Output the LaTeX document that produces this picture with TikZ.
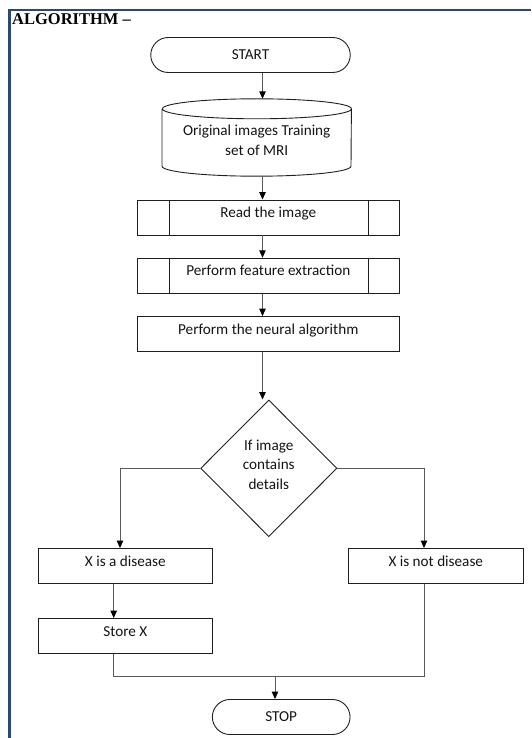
\documentclass[tikz,border=0pt]{standalone}
\usepackage{fontspec}
\setmainfont{Carlito}
\newfontfamily\titlefont{Liberation Serif}
\usetikzlibrary{shapes.geometric,arrows.meta,calc}
\definecolor{framecol}{RGB}{44,72,108}
\definecolor{txt}{RGB}{20,20,20}
\begin{document}
\begin{tikzpicture}[x=1pt,y=-1pt,
  every node/.style={font=\fontsize{15.2pt}{19.7pt}\selectfont, text=txt},
  boxline/.style={draw=black!88, line width=0.9pt},
  proc/.style={boxline, rectangle, minimum height=35pt, inner sep=0pt, text height=10.5pt, text depth=10.5pt},
  term/.style={boxline, rectangle, rounded corners=17.5pt, minimum height=35pt, inner sep=0pt, text height=10.5pt, text depth=1pt},
  conn/.style={draw=black!65, line width=1pt},
  arr/.style={conn, -{Triangle[length=7.5pt,width=6.5pt,color=black]}},
  framestyle/.style={draw=framecol, line width=2.4pt}
]
\useasboundingbox (0,0) rectangle (531,738);
\draw[framestyle] (9.5,738) -- (9.5,10) -- (531,10);

\node[anchor=base west, font=\titlefont\bfseries\fontsize{16.5pt}{18pt}\selectfont, text=black, inner sep=0pt] (title) at (12,25) {ALGORITHM –};

\node[term, minimum width=199.5pt] (start) at (250.5,55) {START};

\node[minimum width=189pt, minimum height=77pt, inner sep=0pt,
  label={[align=center, yshift=-2.5pt]center:{Original images Training\\set of MRI}}] (db) at (256.7,137.5) {};
\draw[boxline] ([yshift=-10pt]db.north west) -- ([yshift=10pt]db.south west)
  arc[start angle=180,end angle=360,x radius=94.5pt,y radius=10pt]
  -- ([yshift=-10pt]db.north east)
  arc[start angle=0,end angle=180,x radius=94.5pt,y radius=10pt]
  arc[start angle=180,end angle=360,x radius=94.5pt,y radius=10pt];

\node[proc, minimum width=261.3pt] (read) at (268.3,217.5) {Read the image};
\draw[boxline] ([xshift=32.3pt]read.north west) -- ([xshift=32.3pt]read.south west)
  ([xshift=-31.3pt]read.north east) -- ([xshift=-31.3pt]read.south east);

\node[proc, minimum width=261.3pt] (feat) at (268.3,275.7) {Perform feature extraction};
\draw[boxline] ([xshift=32.3pt]feat.north west) -- ([xshift=32.3pt]feat.south west)
  ([xshift=-31.3pt]feat.north east) -- ([xshift=-31.3pt]feat.south east);

\node[proc, minimum width=261.3pt] (neural) at (268.3,334) {Perform the neural algorithm};

\node[diamond, boxline, minimum width=136.3pt, minimum height=136.7pt, inner sep=0pt,
  label={[align=center, yshift=3.75pt]center:{If image\\contains\\details}}] (dec) at (268.8,468.3) {};

\node[proc, minimum width=174pt] (dis) at (125.3,566) {X is a disease};
\node[proc, minimum width=175pt] (notdis) at (435.8,566) {X is not disease};
\node[proc, minimum width=174pt] (store) at (125.3,636) {Store X};
\node[term, minimum width=137.7pt] (stop) at (281.2,717) {STOP};

\coordinate (ax) at (262.5,0);
\coordinate (lx) at (120,0);
\coordinate (rx) at (424,0);
\coordinate (sx) at (113.7,0);
\coordinate (mg) at (275,676);

\draw[arr] (start.south -| ax) -- (db.north -| ax);
\draw[arr] (db.south -| ax) -- (read.north -| ax);
\draw[arr] (read.south -| ax) -- (feat.north -| ax);
\draw[arr] (feat.south -| ax) -- (neural.north -| ax);
\draw[arr] (neural.south -| ax) -- (dec.north -| ax);
\draw[arr] (dec.west) -- (dec.west -| lx) -- (dis.north -| lx);
\draw[arr] (dec.east) -- (dec.east -| rx) -- (notdis.north -| rx);
\draw[arr] (dis.south -| sx) -- (store.north -| sx);
\draw[conn] (store.south -| sx) -- (sx |- mg) -- (mg -| rx) -- (notdis.south -| rx);
\draw[arr] (mg) -- (stop.north -| mg);
\end{tikzpicture}
\end{document}
